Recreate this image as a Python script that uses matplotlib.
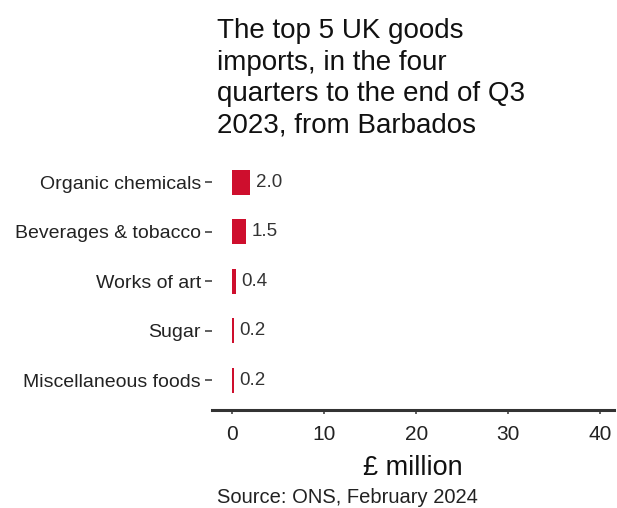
"""
Top 5 UK goods imports from Barbados, horizontal bar chart.
"""
import matplotlib.pyplot as plt

categories = ["Organic chemicals", "Beverages & tobacco", "Works of art",
              "Sugar", "Miscellaneous foods"]
values = [2.0, 1.5, 0.4, 0.2, 0.2]
value_labels = ["2.0", "1.5", "0.4", "0.2", "0.2"]
x_ticks = [0, 10, 20, 30, 40]

plt.rcParams['font.family'] = ['Liberation Sans', 'DejaVu Sans']

fig = plt.figure(figsize=(6.17, 5.08), dpi=100)
ax = fig.add_axes([0.3436, 0.1929, 0.652, 0.502])

pos = list(range(len(categories)))[::-1]
ax.barh(pos, values, height=0.51, color="#CE0E2D")
for p, v, lab in zip(pos, values, value_labels):
    ax.annotate(lab, (v, p), xytext=(4, 0), textcoords="offset points",
                va="center", ha="left", fontsize=13.5, color="#333333")

ax.set_yticks(pos)
ax.set_yticklabels(categories, fontsize=14, color="#222222")
ax.set_xticks(x_ticks)
ax.set_xticklabels([str(t) for t in x_ticks], fontsize=15, color="#222222")
ax.set_xlim(-2.17, 41.5)
ax.set_ylim(-0.6, 4.55)

for s in ["top", "right", "left"]:
    ax.spines[s].set_visible(False)
ax.spines["bottom"].set_linewidth(2.2)
ax.spines["bottom"].set_color("#333333")
ax.tick_params(axis="y", length=5, width=1.2, color="#444444", pad=3)
ax.tick_params(axis="x", length=3, width=1.2, color="#444444", pad=8)

ax.set_xlabel("£ million", fontsize=19.5, color="#111111", labelpad=8)

# title in four lines, anchored on the baseline of the last one
fig.text(0.3517, 1 - 132.5 / 508, "The top 5 UK goods\nimports, in the four\nquarters to the end of Q3\n2023, from Barbados",
         ha="left", va="baseline", fontsize=20, color="#111111", linespacing=1.27)
fig.text(0.3517, 5 / 508, "Source: ONS, February 2024", ha="left", va="baseline",
         fontsize=14.5, color="#222222")

plt.savefig("out.png", dpi=100)
